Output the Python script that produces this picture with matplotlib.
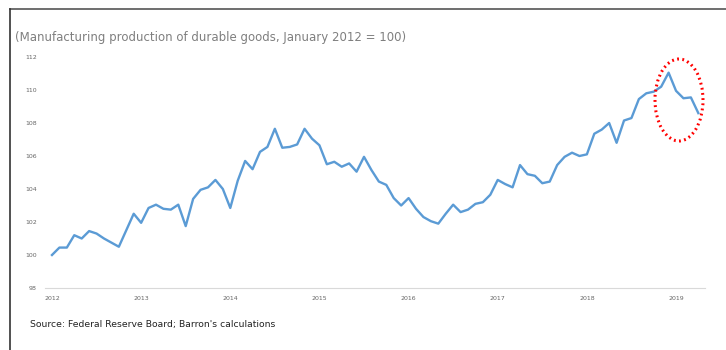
import numpy as np
import matplotlib.pyplot as plt
from matplotlib.patches import Ellipse
from matplotlib.lines import Line2D

# durable goods production index, monthly from Jan 2012 (Jan 2012 = 100)
values = [100.0, 100.45, 100.45, 101.2, 101.0, 101.45, 101.3, 101.0, 100.75, 100.5, 101.5, 102.5,
          101.95, 102.85, 103.05, 102.8, 102.75, 103.05, 101.75, 103.4, 103.95, 104.1, 104.55, 104.0,
          102.85, 104.5, 105.7, 105.2, 106.25, 106.55, 107.65, 106.5, 106.55, 106.7, 107.65, 107.05,
          106.65, 105.5, 105.65, 105.35, 105.55, 105.05, 105.95, 105.15, 104.45, 104.25, 103.45, 103.0,
          103.45, 102.8, 102.3, 102.05, 101.9, 102.5, 103.05, 102.6, 102.75, 103.1, 103.2, 103.65,
          104.55, 104.3, 104.1, 105.45, 104.9, 104.8, 104.35, 104.45, 105.45, 105.95, 106.2, 106.0,
          106.1, 107.35, 107.6, 108.0, 106.8, 108.15, 108.3, 109.45, 109.8, 109.9, 110.2, 111.05,
          109.95, 109.5, 109.55, 108.6]
months = np.arange(len(values))
year_labels = ['2012', '2013', '2014', '2015', '2016', '2017', '2018', '2019']
year_pos = np.arange(len(year_labels)) * 12
yticks = [98, 100, 102, 104, 106, 108, 110, 112]

W, H = 726, 350
fig = plt.figure(figsize=(W / 100, H / 100), dpi=100)
ax = fig.add_axes([45 / W, (H - 288) / H, 660 / W, 231 / H])

ax.plot(months, values, color='#5b9bd5', lw=1.7, solid_joinstyle='round')
ax.set_xlim(-0.94, 87.9)
ax.set_ylim(98, 112)

ax.set_yticks(yticks)
ax.set_yticklabels([str(t) for t in yticks], fontsize=4.5, color='#666666')
ax.set_xticks(year_pos)
ax.set_xticklabels(year_labels, fontsize=4.5, color='#666666')
ax.tick_params(length=0, pad=6)
for s in ['top', 'right', 'left']:
    ax.spines[s].set_visible(False)
ax.spines['bottom'].set_color('#d9d9d9')
ax.spines['bottom'].set_linewidth(0.8)

fig.text(15 / W, 1 - 37 / H, '(Manufacturing production of durable goods, January 2012 = 100)',
         fontsize=8.5, color='#7f7f7f', va='center', ha='left')
fig.text(30 / W, 1 - 325 / H, "Source: Federal Reserve Board; Barron's calculations",
         fontsize=6.7, color='#222222', va='center', ha='left')

# frame around the panel
fig.add_artist(Line2D([10 / W, 1], [1 - 9 / H, 1 - 9 / H], transform=fig.transFigure,
                      color='#555555', lw=1.2))
fig.add_artist(Line2D([10 / W, 10 / W], [0, 1 - 9 / H], transform=fig.transFigure,
                      color='#333333', lw=1.2))

# highlight of the latest decline
ring = Ellipse((679 / W, 1 - 100 / H), 48 / W, 82 / H, transform=fig.transFigure,
               fill=False, edgecolor='#ff0000', lw=2.2, linestyle=(0, (0.6, 1.1)))
fig.add_artist(ring)

fig.savefig('out.png', dpi=100)
